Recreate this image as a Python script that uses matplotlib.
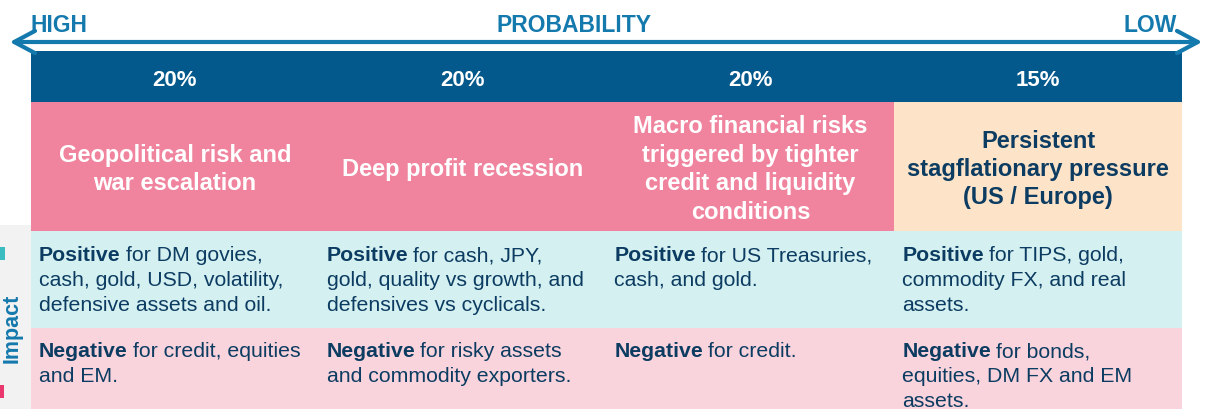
#!/usr/bin/env python3
import matplotlib
matplotlib.use("Agg")
import matplotlib.pyplot as plt
from matplotlib.patches import Rectangle, FancyArrowPatch

plt.rcParams['font.family'] = ['Liberation Sans', 'DejaVu Sans']

# Data
probabilities = ["20%", "20%", "20%", "15%"]
scenarios = [
    ["Geopolitical risk and", "war escalation"],
    ["Deep profit recession"],
    ["Macro financial risks", "triggered by tighter", "credit and liquidity", "conditions"],
    ["Persistent", "stagflationary pressure", "(US / Europe)"],
]
positives = [
    ["for DM govies,", "cash, gold, USD, volatility,", "defensive assets and oil."],
    ["for cash, JPY,", "gold, quality vs growth, and", "defensives vs cyclicals."],
    ["for US Treasuries,", "cash, and gold."],
    ["for TIPS, gold,", "commodity FX, and real", "assets."],
]
negatives = [
    ["for credit, equities", "and EM."],
    ["for risky assets", "and commodity exporters."],
    ["for credit."],
    ["for bonds,", "equities, DM FX and EM", "assets."],
]
top_labels = ["HIGH", "PROBABILITY", "LOW"]

# Colours
ARROW = "#1479ad"
HEADER = "#03588c"
PINK = "#f0849e"
ORANGE = "#fde4c9"
POS_BG = "#d5f0f1"
NEG_BG = "#f9d4dd"
NAVY = "#0c3c61"

fig = plt.figure(figsize=(12.1, 4.09), dpi=100)
ax = fig.add_axes([0, 0, 1, 1])
ax.set_xlim(0, 1210)
ax.set_ylim(409, 0)
ax.axis('off')
renderer = fig.canvas.get_renderer()

# Table geometry (pixels)
left, right = 31, 1182
ncol = len(probabilities)
colw = (right - left) / ncol
rows = [(51, 102, HEADER), (102, 231, PINK), (231, 328, POS_BG), (328, 409, NEG_BG)]

for top, bottom, color in rows:
    for i in range(ncol):
        c = color
        if color == PINK and i == ncol - 1:
            c = ORANGE
        ax.add_patch(Rectangle((left + i * colw, top), colw, bottom - top,
                               facecolor=c, edgecolor='none'))

# Left gray strip with Impact label
ax.add_patch(Rectangle((0, 225), left, 184, facecolor="#f2f2f2", edgecolor='none'))
ax.add_patch(Rectangle((0, 247), 5, 13, facecolor="#3bbcc0", edgecolor='none'))
ax.add_patch(Rectangle((0, 385), 4, 13, facecolor="#e8386d", edgecolor='none'))
ax.text(12, 328, "Impact", rotation=90, ha='center', va='center',
        fontsize=15.5, fontweight='bold', color=ARROW)

# Probability arrow
ax.add_patch(FancyArrowPatch((7, 42), (1205, 42),
                             arrowstyle='<->,head_length=15,head_width=8',
                             mutation_scale=1, lw=3, color=ARROW))
ax.text(31, 32, top_labels[0], ha='left', va='baseline', fontsize=16.5,
        fontweight='bold', color=ARROW)
ax.text(574, 32, top_labels[1], ha='center', va='baseline',
        fontsize=16.5, fontweight='bold', color=ARROW)
ax.text(1177, 32, top_labels[2], ha='right', va='baseline', fontsize=16.5,
        fontweight='bold', color=ARROW)


def bold_lead_lines(x, y0, word, lines, step):
    t = ax.text(x, y0, word, ha='left', va='baseline', fontsize=15.3,
                fontweight='bold', color=NAVY)
    w = t.get_window_extent(renderer).width
    for k, line in enumerate(lines):
        if k == 0:
            ax.text(x + w + 5, y0, line, ha='left', va='baseline',
                    fontsize=15.3, color=NAVY)
        else:
            ax.text(x, y0 + k * step, line, ha='left', va='baseline',
                    fontsize=15.3, color=NAVY)


for i in range(ncol):
    x0 = left + i * colw
    cx = x0 + colw / 2
    ax.text(cx, 86, probabilities[i], ha='center', va='baseline',
            fontsize=16, fontweight='bold', color='white')
    lines = scenarios[i]
    n = len(lines)
    tcolor = NAVY if i == ncol - 1 else 'white'
    for k, line in enumerate(lines):
        ax.text(cx, 176 + (k - (n - 1) / 2) * 28.4, line, ha='center',
                va='baseline', fontsize=17, fontweight='bold', color=tcolor)
    bold_lead_lines(x0 + 8, 261, "Positive", positives[i], 24.8)
    bold_lead_lines(x0 + 8, 357, "Negative", negatives[i], 24.8)

fig.savefig("out.png", dpi=100)
